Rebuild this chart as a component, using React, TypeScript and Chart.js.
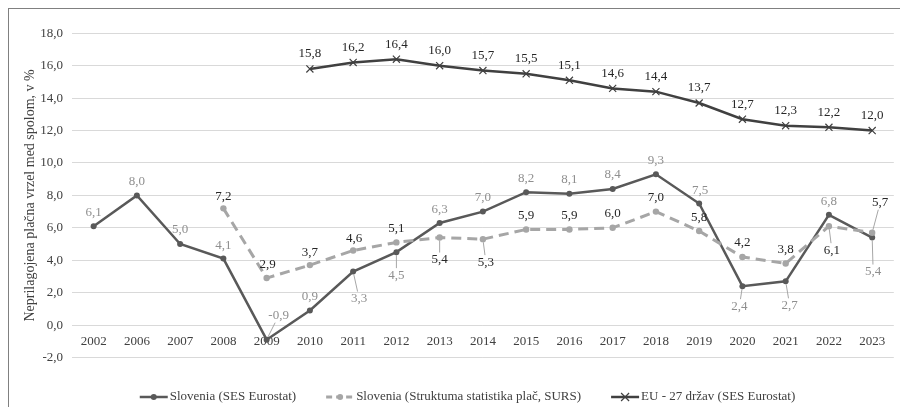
import React, { useEffect, useRef } from "react";
import { Chart, registerables } from "chart.js";

Chart.register(...registerables);

// ---------- data ----------
const categories = [
  "2002", "2006", "2007", "2008", "2009", "2010", "2011", "2012", "2013", "2014",
  "2015", "2016", "2017", "2018", "2019", "2020", "2021", "2022", "2023",
];

const sesEurostat: (number | null)[] = [
  6.1, 8.0, 5.0, 4.1, -0.9, 0.9, 3.3, 4.5, 6.3, 7.0, 8.2, 8.1, 8.4, 9.3, 7.5, 2.4, 2.7, 6.8, 5.4,
];

const sursValues: (number | null)[] = [
  null, null, null, 7.2, 2.9, 3.7, 4.6, 5.1, 5.4, 5.3, 5.9, 5.9, 6.0, 7.0, 5.8, 4.2, 3.8, 6.1, 5.7,
];

const eu27: (number | null)[] = [
  null, null, null, null, null, 15.8, 16.2, 16.4, 16.0, 15.7, 15.5, 15.1, 14.6, 14.4, 13.7, 12.7, 12.3, 12.2, 12.0,
];

const seriesNames = [
  "Slovenia (SES Eurostat)",
  "Slovenia (Struktuma statistika plač, SURS)",
  "EU - 27 držav (SES Eurostat)",
];

const yAxisTitle = "Neprilagojena plačna vrzel med spolom, v %";
const yMin = -2;
const yMax = 18;
const yStep = 2;

// ---------- label placement (pixel offsets from point, leader flag) ----------
type Place = [number, number, boolean];
const sesPlacement: Place[] = [
  [0, -14, false], [0, -14, false], [0, -14, false], [0, -13, false], [12, -24, true],
  [0, -14, false], [6, 27, true], [0, 23, true], [0, -13, false], [0, -14, false],
  [0, -14, false], [0, -14, false], [0, -14, false], [0, -14, false], [1, -13, false],
  [-3, 20, true], [4, 24, true], [0, -13, false], [1, 34, true],
];
const sursPlacement: Place[] = [
  [0, -13, false], [0, -13, false], [0, -13, false], [0, -12, false], [1, -13, false],
  [0, -13, false], [1, -12, false], [0, -14, false], [0, 22, true], [3, 23, true],
  [0, -14, false], [0, -14, false], [0, -14, false], [0, -14, false], [0, -13, false],
  [0, -14, false], [0, -14, false], [3, 24, true], [8, -30, true],
];
const euPlacement: Place[] = categories.map(() => [0, -15, false] as Place);

const placements = [sesPlacement, sursPlacement, euPlacement];
const labelColors = ["#8f8f8f", "#262626", "#262626"];

const FONT = "'Liberation Serif', 'Times New Roman', serif";

const fmt = (v: number) => v.toFixed(1).replace(".", ",");

const pointLabelPlugin = {
  id: "pointLabels",
  afterDatasetsDraw(chart: any) {
    const ctx = chart.ctx as CanvasRenderingContext2D;
    ctx.save();
    ctx.font = `13px ${FONT}`;
    ctx.textAlign = "center";
    ctx.textBaseline = "middle";
    chart.data.datasets.forEach((ds: any, di: number) => {
      const meta = chart.getDatasetMeta(di);
      const place = placements[di];
      meta.data.forEach((pt: any, i: number) => {
        const v = ds.data[i];
        if (v == null) return;
        const [dx, dy, leader] = place[i];
        const lx = pt.x + dx;
        const ly = pt.y + dy;
        const text = fmt(v);
        if (leader) {
          const w = ctx.measureText(text).width / 2 + 1;
          const h = 7;
          const vx = lx - pt.x;
          const vy = ly - pt.y;
          const len = Math.hypot(vx, vy);
          const ux = vx / len;
          const uy = vy / len;
          const t = Math.min(
            Math.abs(ux) > 1e-6 ? w / Math.abs(ux) : Infinity,
            Math.abs(uy) > 1e-6 ? h / Math.abs(uy) : Infinity
          );
          ctx.beginPath();
          ctx.strokeStyle = "#a6a6a6";
          ctx.lineWidth = 1;
          ctx.moveTo(pt.x + ux * 3, pt.y + uy * 3);
          ctx.lineTo(lx - ux * t, ly - uy * t);
          ctx.stroke();
        }
        ctx.fillStyle = labelColors[di];
        ctx.fillText(text, lx, ly);
      });
    });
    ctx.restore();
  },
};

const legendItems = [
  { color: "#595959", dash: [] as number[], width: 2.5, marker: "circle" },
  { color: "#a6a6a6", dash: [6, 4], width: 3, marker: "circle" },
  { color: "#404040", dash: [] as number[], width: 2.5, marker: "cross" },
];

const legendPlugin = {
  id: "customLegend",
  afterDraw(chart: any) {
    const ctx = chart.ctx as CanvasRenderingContext2D;
    ctx.save();
    ctx.font = `13px ${FONT}`;
    ctx.textBaseline = "middle";
    ctx.textAlign = "left";
    const sampleW = 28;
    const gapText = 2;
    const gapItem = 30;
    const widths = seriesNames.map((s) => ctx.measureText(s).width);
    const total =
      widths.reduce((a, b) => a + b, 0) + seriesNames.length * (sampleW + gapText) + gapItem * (seriesNames.length - 1);
    const cx = 458.5;
    const y = 388;
    let x = cx - total / 2;
    seriesNames.forEach((name, i) => {
      const it = legendItems[i];
      ctx.beginPath();
      ctx.strokeStyle = it.color;
      ctx.lineWidth = it.width;
      ctx.setLineDash(it.dash);
      ctx.moveTo(x, y);
      ctx.lineTo(x + sampleW, y);
      ctx.stroke();
      ctx.setLineDash([]);
      const mx = x + sampleW / 2;
      if (it.marker === "circle") {
        ctx.beginPath();
        ctx.fillStyle = it.color;
        ctx.arc(mx, y, 3, 0, Math.PI * 2);
        ctx.fill();
      } else {
        ctx.beginPath();
        ctx.strokeStyle = it.color;
        ctx.lineWidth = 1.2;
        ctx.moveTo(mx - 4, y - 4);
        ctx.lineTo(mx + 4, y + 4);
        ctx.moveTo(mx + 4, y - 4);
        ctx.lineTo(mx - 4, y + 4);
        ctx.stroke();
      }
      ctx.fillStyle = "#404040";
      ctx.fillText(name, x + sampleW + gapText, y);
      x += sampleW + gapText + widths[i] + gapItem;
    });
    ctx.restore();
  },
};

export default function App() {
  const canvasRef = useRef<HTMLCanvasElement | null>(null);

  useEffect(() => {
    if (!canvasRef.current) return;
    const chart = new Chart(canvasRef.current, {
      type: "line",
      data: {
        labels: categories,
        datasets: [
          {
            label: seriesNames[0],
            data: sesEurostat,
            borderColor: "#595959",
            backgroundColor: "#595959",
            borderWidth: 2.5,
            pointRadius: 3,
            pointBackgroundColor: "#595959",
            pointBorderColor: "#595959",
            pointBorderWidth: 0,
            tension: 0,
            order: 2,
          },
          {
            label: seriesNames[1],
            data: sursValues,
            borderColor: "#a6a6a6",
            backgroundColor: "#a6a6a6",
            borderWidth: 3,
            borderDash: [10, 6],
            pointRadius: 3.2,
            pointBackgroundColor: "#a6a6a6",
            pointBorderColor: "#a6a6a6",
            pointBorderWidth: 0,
            tension: 0,
            order: 1,
          },
          {
            label: seriesNames[2],
            data: eu27,
            borderColor: "#404040",
            backgroundColor: "#404040",
            borderWidth: 2.5,
            pointStyle: "crossRot",
            pointRadius: 5,
            pointBorderColor: "#404040",
            pointBorderWidth: 1.2,
            tension: 0,
            order: 0,
          },
        ],
      },
      options: {
        animation: false,
        responsive: true,
        maintainAspectRatio: false,
        layout: { padding: { left: 0, right: 3, top: 24.3, bottom: 49.5 } },
        plugins: {
          legend: { display: false },
          tooltip: { enabled: false },
        },
        scales: {
          x: {
            position: { y: 0 } as any,
            offset: true,
            grid: { display: false, drawTicks: false },
            border: { display: false },
            ticks: {
              color: "#404040",
              font: { family: FONT, size: 13 },
              padding: 9,
              maxRotation: 0,
              autoSkip: false,
            },
          },
          y: {
            min: yMin,
            max: yMax,
            afterFit: (scale: any) => {
              scale.width = 63;
            },
            grid: { color: "#d9d9d9", lineWidth: 1, drawTicks: false },
            border: { display: false },
            ticks: {
              stepSize: yStep,
              color: "#404040",
              font: { family: FONT, size: 13 },
              padding: 9,
              callback: (v: any) => fmt(Number(v)),
            },
            title: {
              display: true,
              text: yAxisTitle,
              color: "#404040",
              font: { family: FONT, size: 14 },
              padding: { top: 12.6, bottom: 0 },
            },
          },
        },
      },
      plugins: [pointLabelPlugin, legendPlugin],
    });
    return () => chart.destroy();
  }, []);

  return (
    <div
      style={{
        width: 892,
        height: 399,
        boxSizing: "border-box",
        borderLeft: "1px solid #808080",
        borderTop: "1px solid #808080",
        background: "#ffffff",
      }}
    >
      <div style={{ position: "relative", width: 891, height: 398 }}>
        <canvas ref={canvasRef} />
      </div>
    </div>
  );
}
